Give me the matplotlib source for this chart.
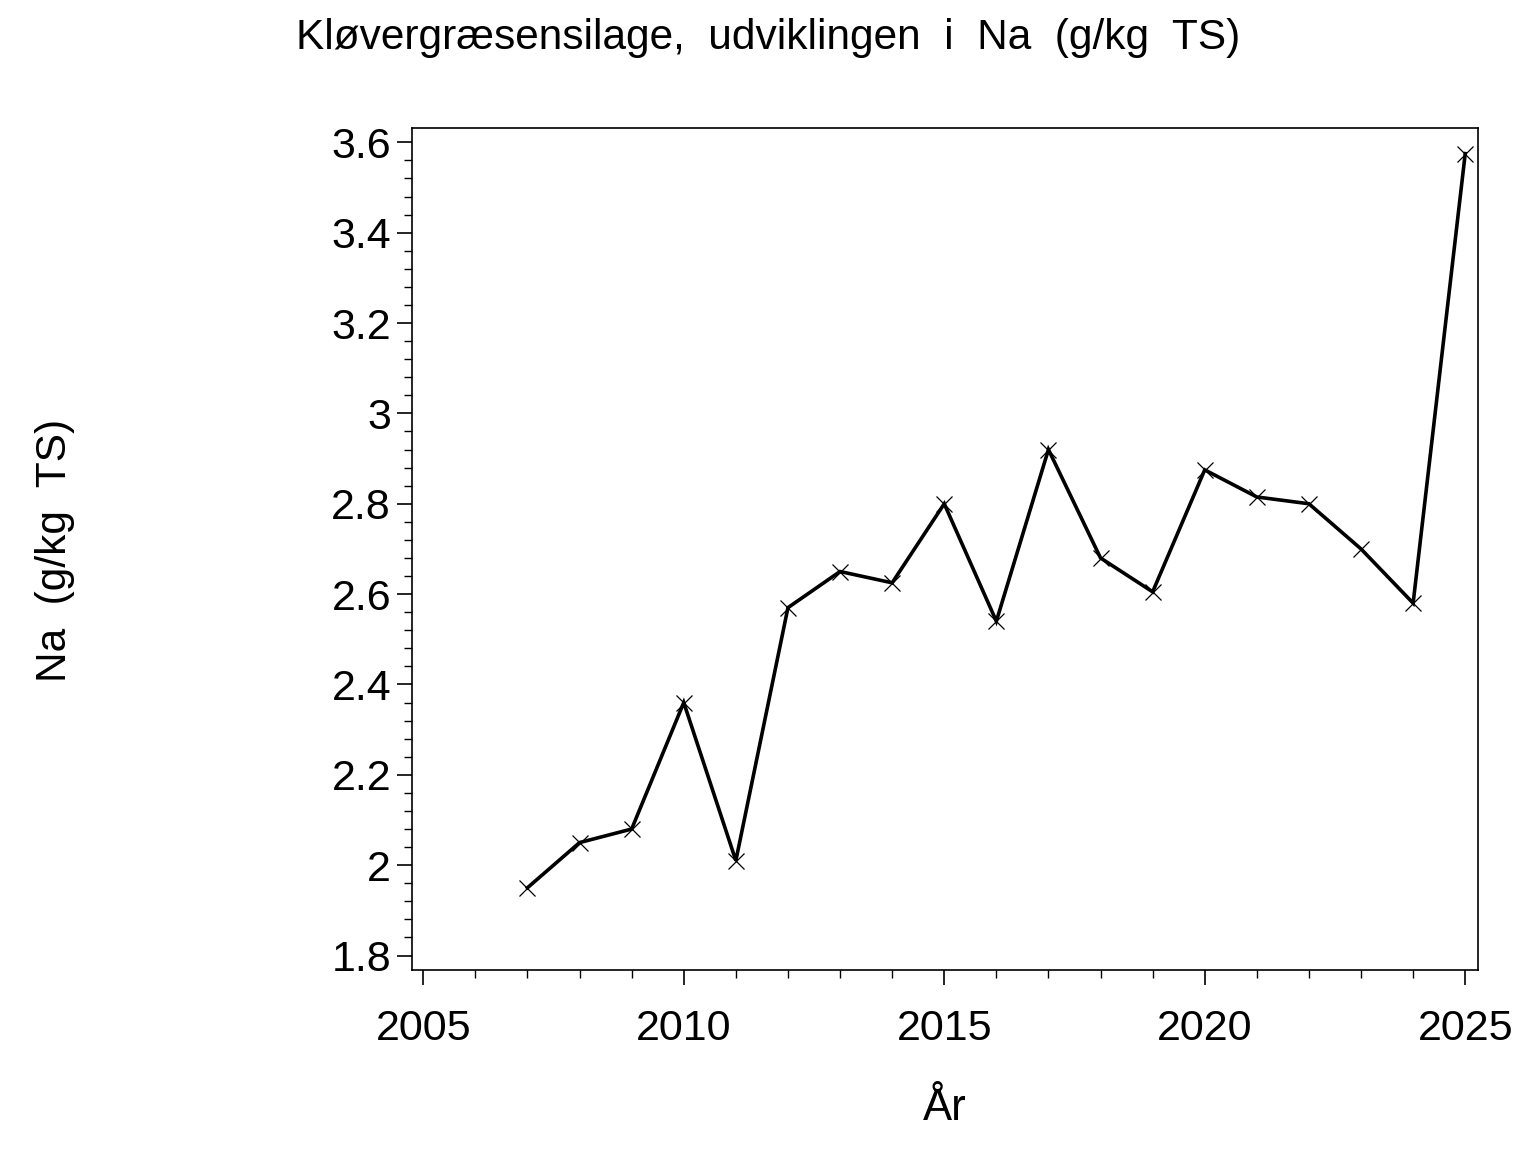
import matplotlib
matplotlib.use("Agg")
import matplotlib.pyplot as plt
from matplotlib.ticker import MultipleLocator, FixedLocator

years = [2007, 2008, 2009, 2010, 2011, 2012, 2013, 2014, 2015, 2016,
         2017, 2018, 2019, 2020, 2021, 2022, 2023, 2024, 2025]
na_values = [1.95, 2.05, 2.08, 2.36, 2.01, 2.57, 2.65, 2.625, 2.80, 2.54,
             2.92, 2.68, 2.605, 2.875, 2.815, 2.80, 2.70, 2.58, 3.575]

x_ticks = [2005, 2010, 2015, 2020, 2025]
y_ticks = [1.8, 2.0, 2.2, 2.4, 2.6, 2.8, 3.0, 3.2, 3.4, 3.6]
y_tick_labels = ["1.8", "2", "2.2", "2.4", "2.6", "2.8", "3", "3.2", "3.4", "3.6"]

title = "Kløvergræsensilage,  udviklingen  i  Na  (g/kg  TS)"
xlabel = "År"
ylabel = "Na  (g/kg  TS)"

plt.rcParams['font.family'] = ['Liberation Sans', 'DejaVu Sans']

fig = plt.figure(figsize=(15.36, 11.52), dpi=100)
ax = fig.add_axes([0.268, 0.158, 0.6944, 0.7306])

ax.plot(years, na_values, color='black', linewidth=2.6,
        marker='x', markersize=11.5, markeredgewidth=0.9, solid_joinstyle='miter')

ax.set_xlim(2004.777, 2025.25)
ax.set_ylim(1.768, 3.631)

ax.xaxis.set_major_locator(FixedLocator(x_ticks))
ax.xaxis.set_minor_locator(MultipleLocator(1))
ax.yaxis.set_major_locator(FixedLocator(y_ticks))
ax.set_yticklabels(y_tick_labels)
ax.yaxis.set_minor_locator(MultipleLocator(0.04))

ax.tick_params(axis='both', which='major', direction='out', length=10.8, width=1.2,
               labelsize=31, color='black')
ax.tick_params(axis='both', which='minor', direction='out', length=5.5, width=1.0,
               color='black')
ax.tick_params(axis='y', which='major', pad=4)
ax.tick_params(axis='x', which='major', pad=17)

for sp in ax.spines.values():
    sp.set_linewidth(1.2)
    sp.set_color('black')

fig.text(0.5, 1 - 38 / 1152, title, ha='center', va='center', fontsize=30.5)
fig.text(945 / 1536, 1 - 1108 / 1152, xlabel, ha='center', va='center', fontsize=31.5)
fig.text(55 / 1536, 1 - 550 / 1152, ylabel, ha='center', va='center', fontsize=30.5,
         rotation=90)

fig.savefig("out.png", dpi=100, facecolor='white')
